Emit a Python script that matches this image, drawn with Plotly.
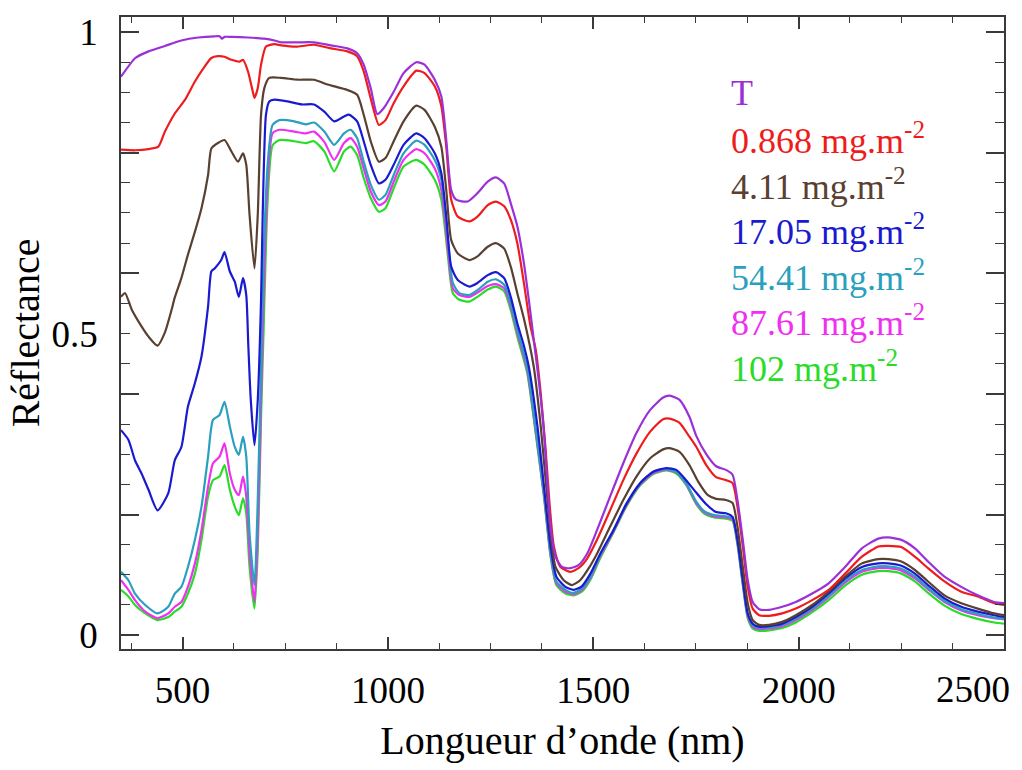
import plotly.graph_objects as go

# Reflectance spectra (wavelength in nm, reflectance 0-1)
wl_T = [350, 385, 417, 457, 497, 538, 578, 590, 596, 602, 619, 659, 699, 724, 740, 780, 820, 861, 901, 925,
        941, 958, 974, 990, 1014, 1038, 1069, 1089, 1114, 1130, 1142, 1154, 1166, 1194, 1218, 1243, 1263,
        1283, 1299, 1315, 1331, 1343, 1355, 1368, 1380, 1388, 1396, 1408, 1424, 1444, 1464, 1485, 1509,
        1541, 1573, 1605, 1638, 1670, 1686, 1710, 1734, 1751, 1775, 1799, 1823, 1839, 1851, 1864, 1876,
        1888, 1904, 1928, 1960, 1993, 2033, 2073, 2113, 2154, 2194, 2218, 2250, 2283, 2315, 2355, 2396,
        2436, 2476, 2500]
r_T = [0.926, 0.957, 0.968, 0.977, 0.986, 0.991, 0.993, 0.993, 0.989, 0.992, 0.992, 0.991, 0.989, 0.986,
       0.983, 0.983, 0.983, 0.978, 0.973, 0.965, 0.946, 0.907, 0.864, 0.874, 0.901, 0.932, 0.950, 0.946,
       0.921, 0.893, 0.821, 0.738, 0.722, 0.719, 0.733, 0.752, 0.759, 0.749, 0.716, 0.678, 0.617, 0.556,
       0.490, 0.418, 0.335, 0.252, 0.180, 0.130, 0.113, 0.111, 0.116, 0.135, 0.174, 0.230, 0.285, 0.335,
       0.373, 0.394, 0.397, 0.390, 0.362, 0.330, 0.300, 0.280, 0.274, 0.266, 0.224, 0.158, 0.091, 0.055,
       0.043, 0.042, 0.047, 0.055, 0.069, 0.086, 0.113, 0.144, 0.160, 0.162, 0.158, 0.144, 0.122, 0.097,
       0.080, 0.066, 0.055, 0.053]

wl_868 = [350, 385, 417, 441, 457, 481, 506, 530, 554, 570, 586, 602, 619, 639, 647, 659, 669, 675, 683,
          691, 703, 724, 740, 780, 820, 861, 901, 925, 941, 958, 978, 994, 1014, 1038, 1069, 1089, 1114,
          1130, 1142, 1154, 1170, 1198, 1218, 1243, 1263, 1283, 1299, 1315, 1331, 1347, 1360, 1372, 1384,
          1394, 1404, 1420, 1444, 1464, 1485, 1509, 1541, 1573, 1605, 1638, 1670, 1686, 1710, 1734, 1751,
          1775, 1799, 1823, 1839, 1851, 1864, 1876, 1888, 1904, 1928, 1960, 1993, 2033, 2073, 2113, 2154,
          2194, 2218, 2250, 2283, 2315, 2355, 2396, 2436, 2476, 2500]
r_868 = [0.805, 0.804, 0.806, 0.810, 0.835, 0.865, 0.888, 0.918, 0.943, 0.957, 0.960, 0.959, 0.954, 0.951,
         0.954, 0.935, 0.907, 0.891, 0.907, 0.946, 0.976, 0.980, 0.978, 0.976, 0.979, 0.973, 0.968, 0.960,
         0.935, 0.890, 0.846, 0.854, 0.882, 0.910, 0.936, 0.932, 0.910, 0.877, 0.810, 0.722, 0.694, 0.686,
         0.694, 0.713, 0.719, 0.711, 0.689, 0.650, 0.584, 0.512, 0.473, 0.401, 0.307, 0.213, 0.147, 0.113,
         0.105, 0.111, 0.127, 0.158, 0.207, 0.257, 0.301, 0.337, 0.358, 0.359, 0.352, 0.329, 0.312, 0.282,
         0.262, 0.257, 0.252, 0.213, 0.147, 0.080, 0.044, 0.033, 0.032, 0.036, 0.044, 0.058, 0.075, 0.102,
         0.130, 0.147, 0.148, 0.146, 0.130, 0.111, 0.089, 0.072, 0.064, 0.053, 0.050]

wl_411 = [350, 360, 376, 400, 417, 439, 457, 473, 481, 497, 513, 530, 546, 562, 570, 586, 602, 619, 635,
          647, 655, 663, 675, 683, 691, 699, 711, 740, 780, 820, 853, 901, 925, 941, 958, 978, 994, 1014,
          1038, 1069, 1089, 1114, 1130, 1142, 1154, 1170, 1198, 1218, 1243, 1263, 1283, 1299, 1315, 1331,
          1355, 1372, 1384, 1396, 1408, 1428, 1448, 1468, 1489, 1509, 1541, 1573, 1605, 1638, 1670, 1686,
          1710, 1734, 1755, 1779, 1799, 1823, 1839, 1851, 1864, 1876, 1888, 1904, 1928, 1960, 1993, 2033,
          2073, 2113, 2154, 2194, 2218, 2250, 2283, 2315, 2355, 2396, 2436, 2476, 2500]
r_411 = [0.561, 0.567, 0.540, 0.512, 0.495, 0.480, 0.502, 0.539, 0.560, 0.592, 0.631, 0.669, 0.708, 0.763,
         0.807, 0.816, 0.821, 0.802, 0.785, 0.799, 0.780, 0.697, 0.608, 0.697, 0.863, 0.907, 0.924, 0.924,
         0.921, 0.921, 0.913, 0.904, 0.896, 0.863, 0.819, 0.785, 0.791, 0.819, 0.852, 0.878, 0.871, 0.843,
         0.810, 0.738, 0.655, 0.633, 0.622, 0.628, 0.644, 0.650, 0.641, 0.611, 0.567, 0.525, 0.445, 0.346,
         0.257, 0.169, 0.113, 0.091, 0.083, 0.091, 0.111, 0.135, 0.180, 0.224, 0.263, 0.293, 0.308, 0.310,
         0.304, 0.282, 0.255, 0.232, 0.226, 0.224, 0.219, 0.180, 0.113, 0.053, 0.025, 0.017, 0.017, 0.022,
         0.033, 0.050, 0.072, 0.097, 0.119, 0.126, 0.126, 0.122, 0.108, 0.089, 0.066, 0.053, 0.044, 0.036,
         0.033]

wl_1705 = [350, 368, 384, 400, 417, 439, 465, 481, 497, 513, 530, 546, 562, 570, 578, 594, 602, 615, 627,
           637, 647, 655, 660, 666, 675, 683, 691, 695, 703, 711, 724, 756, 790, 820, 845, 869, 893, 905,
           925, 941, 958, 978, 994, 1014, 1038, 1069, 1089, 1114, 1130, 1142, 1154, 1170, 1198, 1218, 1243,
           1263, 1283, 1299, 1315, 1331, 1343, 1364, 1380, 1396, 1410, 1432, 1452, 1472, 1493, 1517, 1549,
           1581, 1614, 1646, 1678, 1702, 1726, 1751, 1775, 1799, 1823, 1839, 1851, 1864, 1876, 1888, 1904,
           1928, 1960, 1993, 2033, 2073, 2113, 2154, 2194, 2218, 2250, 2283, 2315, 2355, 2396, 2436, 2476,
           2500]
r_1705 = [0.340, 0.324, 0.290, 0.268, 0.241, 0.207, 0.235, 0.290, 0.312, 0.379, 0.418, 0.462, 0.545, 0.603,
          0.608, 0.622, 0.635, 0.603, 0.586, 0.561, 0.592, 0.564, 0.480, 0.390, 0.315, 0.390, 0.556, 0.697,
          0.863, 0.885, 0.888, 0.885, 0.880, 0.880, 0.868, 0.852, 0.860, 0.863, 0.852, 0.819, 0.780, 0.749,
          0.755, 0.780, 0.813, 0.832, 0.824, 0.799, 0.766, 0.694, 0.611, 0.589, 0.578, 0.584, 0.597, 0.602,
          0.592, 0.561, 0.517, 0.480, 0.445, 0.346, 0.246, 0.147, 0.097, 0.080, 0.075, 0.081, 0.102, 0.135,
          0.174, 0.218, 0.252, 0.271, 0.277, 0.274, 0.257, 0.236, 0.217, 0.204, 0.202, 0.196, 0.158, 0.091,
          0.036, 0.019, 0.014, 0.015, 0.019, 0.030, 0.047, 0.069, 0.094, 0.113, 0.119, 0.119, 0.115, 0.102,
          0.083, 0.061, 0.047, 0.039, 0.033, 0.030]

# Lower three spectra share one sampling grid
wl_low = [350, 368, 384, 409, 439, 465, 481, 497, 513, 530, 546, 562, 574, 590, 602, 615, 627, 637, 647,
          655, 663, 675, 683, 691, 697, 707, 719, 736, 772, 800, 820, 845, 869, 893, 909, 925, 941, 958,
          978, 994, 1014, 1038, 1069, 1089, 1114, 1130, 1146, 1158, 1174, 1198, 1218, 1243, 1263, 1283,
          1299, 1315, 1339, 1360, 1380, 1396, 1410, 1432, 1452, 1472, 1493, 1517, 1549, 1581, 1614, 1646,
          1678, 1702, 1726, 1751, 1771, 1795, 1823, 1839, 1851, 1864, 1876, 1888, 1904, 1928, 1960, 1993,
          2033, 2073, 2113, 2154, 2194, 2218, 2250, 2283, 2315, 2355, 2396, 2436, 2476, 2500]
r_5441 = [0.105, 0.091, 0.069, 0.050, 0.036, 0.047, 0.069, 0.080, 0.113, 0.158, 0.213, 0.296, 0.357, 0.365,
          0.387, 0.346, 0.312, 0.299, 0.329, 0.296, 0.169, 0.083, 0.224, 0.445, 0.620, 0.780, 0.846, 0.854,
          0.852, 0.847, 0.850, 0.835, 0.813, 0.832, 0.838, 0.824, 0.785, 0.747, 0.722, 0.730, 0.763, 0.799,
          0.820, 0.813, 0.788, 0.755, 0.655, 0.584, 0.567, 0.564, 0.572, 0.586, 0.590, 0.581, 0.550, 0.506,
          0.445, 0.340, 0.235, 0.136, 0.089, 0.075, 0.070, 0.077, 0.097, 0.133, 0.174, 0.218, 0.252, 0.271,
          0.275, 0.271, 0.252, 0.221, 0.205, 0.199, 0.197, 0.194, 0.155, 0.088, 0.033, 0.016, 0.012, 0.013,
          0.017, 0.027, 0.044, 0.065, 0.090, 0.108, 0.114, 0.114, 0.110, 0.097, 0.078, 0.057, 0.043, 0.035,
          0.029, 0.027]
r_8761 = [0.091, 0.075, 0.058, 0.039, 0.028, 0.036, 0.047, 0.055, 0.080, 0.119, 0.174, 0.246, 0.285, 0.296,
          0.318, 0.268, 0.241, 0.232, 0.263, 0.230, 0.136, 0.055, 0.169, 0.390, 0.556, 0.752, 0.832, 0.838,
          0.835, 0.832, 0.835, 0.818, 0.788, 0.816, 0.824, 0.810, 0.774, 0.736, 0.713, 0.719, 0.752, 0.788,
          0.806, 0.799, 0.774, 0.738, 0.639, 0.575, 0.564, 0.561, 0.568, 0.579, 0.582, 0.575, 0.545, 0.501,
          0.440, 0.337, 0.232, 0.133, 0.086, 0.072, 0.068, 0.075, 0.095, 0.131, 0.172, 0.216, 0.250, 0.269,
          0.274, 0.270, 0.251, 0.219, 0.203, 0.197, 0.195, 0.192, 0.153, 0.086, 0.031, 0.014, 0.010, 0.011,
          0.015, 0.025, 0.042, 0.063, 0.087, 0.105, 0.111, 0.111, 0.107, 0.094, 0.076, 0.055, 0.041, 0.033,
          0.028, 0.026]
r_102 = [0.075, 0.064, 0.050, 0.036, 0.025, 0.030, 0.039, 0.047, 0.069, 0.102, 0.158, 0.230, 0.257, 0.263,
         0.282, 0.241, 0.213, 0.199, 0.227, 0.202, 0.113, 0.044, 0.141, 0.362, 0.500, 0.720, 0.812, 0.821,
         0.819, 0.816, 0.819, 0.802, 0.769, 0.802, 0.810, 0.796, 0.758, 0.725, 0.702, 0.708, 0.741, 0.777,
         0.788, 0.780, 0.755, 0.722, 0.628, 0.567, 0.556, 0.553, 0.561, 0.573, 0.578, 0.570, 0.539, 0.495,
         0.435, 0.333, 0.228, 0.130, 0.083, 0.069, 0.066, 0.072, 0.092, 0.128, 0.170, 0.214, 0.248, 0.267,
         0.273, 0.268, 0.249, 0.217, 0.201, 0.195, 0.193, 0.189, 0.150, 0.083, 0.028, 0.011, 0.007, 0.008,
         0.012, 0.021, 0.038, 0.058, 0.082, 0.100, 0.106, 0.106, 0.102, 0.089, 0.070, 0.049, 0.035, 0.027,
         0.021, 0.019]

labels = ["T", "0.868 mg.m<sup>-2</sup>", "4.11 mg.m<sup>-2</sup>", "17.05 mg.m<sup>-2</sup>",
          "54.41 mg.m<sup>-2</sup>", "87.61 mg.m<sup>-2</sup>", "102 mg.m<sup>-2</sup>"]
colors = ["#9b30d6", "#ee1c1c", "#5a4030", "#1a1ad0", "#2a9fbe", "#f030f0", "#28dc28"]
series = [(wl_T, r_T), (wl_868, r_868), (wl_411, r_411), (wl_1705, r_1705),
          (wl_low, r_5441), (wl_low, r_8761), (wl_low, r_102)]

x_labelled = [500, 1000, 1500, 2000]
x_last = [2500]
y_labelled = [0, 0.5, 1]
y_major = [0, 0.2, 0.4, 0.6, 0.8, 1.0]

FONT = "Liberation Serif, Times New Roman, serif"
AXIS_COLOR = "#3a3a3a"
X_RANGE = [350, 2500]
Y_RANGE = [-0.023, 1.025]
tick_font = dict(family=FONT, size=37, color="black")

fig = go.Figure()
# draw lowest spectra first so the upper ones sit on top
for (wl, r), name, col in reversed(list(zip(series, labels, colors))):
    fig.add_trace(go.Scatter(x=wl, y=r, mode="lines", name=name,
                             line=dict(color=col, width=2.2, shape="spline", smoothing=0.6),
                             showlegend=False))

# colored text key
for i, (name, col) in enumerate(zip(labels, colors)):
    fig.add_annotation(x=1830, y=0.899 - i * 0.0755, xref="x", yref="y", text=name,
                       showarrow=False, xanchor="left", yanchor="middle",
                       font=dict(family=FONT, size=36, color=col))

fig.update_layout(
    width=1022, height=770,
    margin=dict(l=121, r=12, t=17, b=121),
    paper_bgcolor="white", plot_bgcolor="white",
    xaxis=dict(
        range=X_RANGE, tickvals=x_labelled,
        ticks="inside", ticklen=12, tickwidth=1.5, tickcolor=AXIS_COLOR,
        minor=dict(dtick=125, tick0=0, ticks="inside", ticklen=6, tickwidth=1.2, tickcolor=AXIS_COLOR),
        showline=True, linecolor=AXIS_COLOR, linewidth=1.5, mirror="ticks",
        showgrid=False, zeroline=False,
        tickfont=tick_font, ticklabelstandoff=8,
        title=dict(text="Longueur d’onde (nm)", font=dict(family=FONT, size=40, color="black"),
                   standoff=16),
    ),
    # right-most wavelength label, pulled inside the figure edge
    xaxis2=dict(
        range=X_RANGE, overlaying="x", side="bottom", anchor="y", tickvals=x_last,
        ticktext=[str(v) for v in x_last], ticks="", showline=False, showgrid=False,
        zeroline=False, tickfont=tick_font, ticklabelstandoff=15, ticklabelshift=-31,
    ),
    yaxis=dict(
        range=Y_RANGE, tickvals=y_labelled,
        ticks="inside", ticklen=9, tickwidth=1.2, tickcolor=AXIS_COLOR,
        minor=dict(dtick=0.05, tick0=0, ticks="inside", ticklen=9, tickwidth=1.2, tickcolor=AXIS_COLOR),
        showline=True, linecolor=AXIS_COLOR, linewidth=1.5, mirror="ticks",
        showgrid=False, zeroline=False,
        tickfont=tick_font, ticklabelstandoff=14,
        title=dict(text="Réflectance", font=dict(family=FONT, size=40, color="black"), standoff=0),
    ),
    # long ticks every 0.2
    yaxis2=dict(
        range=Y_RANGE, overlaying="y", side="left", anchor="x", tickvals=y_major,
        showticklabels=False, ticks="inside", ticklen=18, tickwidth=1.5, tickcolor=AXIS_COLOR,
        showline=True, linecolor=AXIS_COLOR, linewidth=1.5, mirror="ticks",
        showgrid=False, zeroline=False,
    ),
)
# empty trace that activates the overlay axes
fig.add_trace(go.Scatter(x=[None], y=[None], xaxis="x2", yaxis="y2", showlegend=False, hoverinfo="skip"))

fig.write_html("out.html")
